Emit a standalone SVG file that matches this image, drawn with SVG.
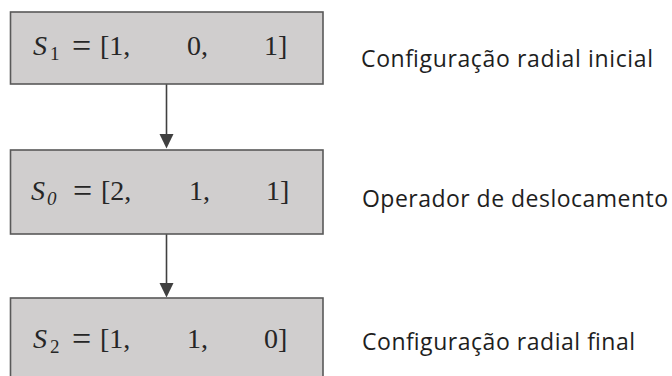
<svg xmlns="http://www.w3.org/2000/svg" width="672" height="376" viewBox="0 0 672 376">
<style>
.box{fill:#d0cece;stroke:#595959;stroke-width:1.6}
.m{font-family:"Liberation Serif",serif;font-size:28px;fill:#262626}
.mi{font-style:italic}
.sub{font-size:19px}
.eq{font-size:34px}
.lbl{font-family:"Open Sans","Liberation Sans",sans-serif;font-size:23px;fill:#1e1e1e}
.con{stroke:#404040;stroke-width:1.6;fill:none}
</style>
<rect width="672" height="376" fill="#ffffff"/>
<g id="connectors">
<line class="con" x1="166.5" y1="84" x2="166.5" y2="136"/>
<path d="M159.5,134 L173.5,134 L166.5,148.5 Z" fill="#404040"/>
<line class="con" x1="166.5" y1="234" x2="166.5" y2="285"/>
<path d="M159.5,283 L173.5,283 L166.5,297.5 Z" fill="#404040"/>
</g>
<g id="node-s1">
<rect class="box" x="10.5" y="12" width="312.5" height="72"/>
<text class="m mi" x="33" y="55">S</text>
<text class="m sub" x="50" y="60">1</text>
<text class="m eq" x="72" y="57">=</text>
<text class="m" x="100" y="55">[1,</text>
<text class="m" x="187" y="55">0,</text>
<text class="m" x="264" y="55">1]</text>
</g>
<g id="node-s0">
<rect class="box" x="10.5" y="150" width="312.5" height="84"/>
<text class="m mi" x="31" y="200">S</text>
<text class="m sub mi" x="47" y="205">0</text>
<text class="m eq" x="73" y="202">=</text>
<text class="m" x="101" y="200">[2,</text>
<text class="m" x="189" y="200">1,</text>
<text class="m" x="266" y="200">1]</text>
</g>
<g id="node-s2">
<rect class="box" x="10.5" y="298" width="312.5" height="84"/>
<text class="m mi" x="33" y="348">S</text>
<text class="m sub" x="50" y="353">2</text>
<text class="m eq" x="72" y="350">=</text>
<text class="m" x="100" y="348">[1,</text>
<text class="m" x="187" y="348">1,</text>
<text class="m" x="264" y="348">0]</text>
</g>
<g id="labels">
<text class="lbl" x="361" y="67" textLength="292" lengthAdjust="spacing">Configuração radial inicial</text>
<text class="lbl" x="362" y="207" textLength="306" lengthAdjust="spacing">Operador de deslocamento</text>
<text class="lbl" x="362" y="350" textLength="273" lengthAdjust="spacing">Configuração radial final</text>
</g>
</svg>
